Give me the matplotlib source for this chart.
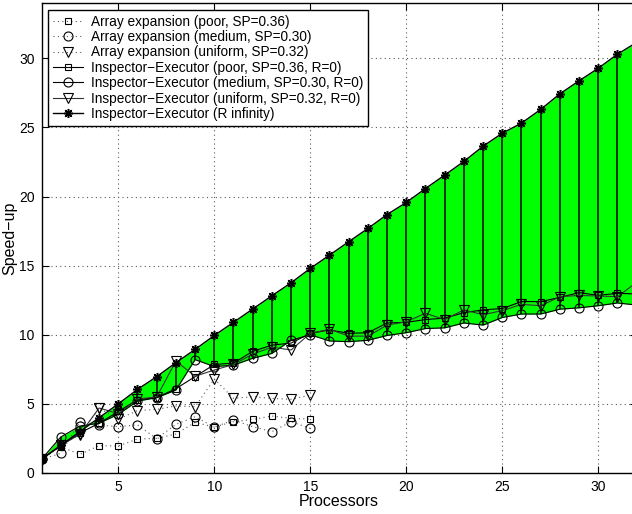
import numpy as np
import matplotlib
matplotlib.use("Agg")
from matplotlib import pyplot as plt

plt.rcParams['font.family'] = ['Liberation Sans', 'DejaVu Sans']

# processors
procs = np.arange(1, 33)
procs_ae = np.arange(1, 16)

# array expansion (dotted, 1..15 processors)
ae_poor = [1.0, 1.9, 1.35, 1.98, 1.95, 2.46, 2.5, 2.82, 3.66, 3.33, 3.71, 3.88, 4.12, 3.95, 3.9]
ae_medium = [1.0, 1.42, 3.72, 3.47, 3.35, 3.48, 2.48, 3.52, 4.07, 3.32, 3.83, 3.35, 2.99, 3.71, 3.22]
ae_uniform = [1.0, 2.0, 2.75, 4.7, 3.9, 4.51, 4.6, 4.85, 4.79, 6.8, 5.4, 5.52, 5.4, 5.33, 5.64]

# inspector-executor, R=0 (1..32 processors)
ie_poor = [1.0, 1.95, 2.9, 3.6, 4.45, 5.3, 5.45, 6.1, 6.97, 7.85, 7.95, 8.8, 9.25, 9.4, 10.1, 10.35,
           10.1, 10.15, 10.85, 10.9, 11.1, 11.2, 11.6, 11.8, 11.9, 12.4, 12.4, 12.7, 13.05, 12.85, 13.0, 12.95]
ie_medium = [1.0, 2.6, 3.4, 3.6, 4.25, 5.2, 5.45, 6.0, 8.2, 7.7, 7.8, 8.3, 8.65, 9.6, 10.0, 9.55,
             9.5, 9.6, 9.95, 10.15, 10.45, 10.5, 10.85, 10.7, 11.25, 11.5, 11.5, 11.85, 11.95, 12.1, 12.3, 12.15]
ie_uniform = [1.0, 2.0, 2.8, 4.7, 4.3, 5.35, 5.5, 8.1, 7.0, 7.45, 7.85, 8.6, 9.1, 8.9, 10.1, 10.4,
              9.9, 9.9, 10.7, 10.95, 11.55, 11.1, 11.8, 11.45, 11.75, 12.2, 12.1, 12.75, 12.85, 12.8, 12.75, 13.8]

# inspector-executor, R infinity
ie_rinf = [1.0, 2.0, 3.0, 4.0, 5.0, 6.05, 6.97, 7.98, 8.94, 9.95, 10.9, 11.86, 12.82, 13.76, 14.8, 15.76,
           16.73, 17.69, 18.7, 19.57, 20.58, 21.55, 22.54, 23.64, 24.58, 25.31, 26.3, 27.43, 28.37, 29.28, 30.3, 31.15]

labels = ['Array expansion (poor, SP=0.36)',
          'Array expansion (medium, SP=0.30)',
          'Array expansion (uniform, SP=0.32)',
          'Inspector\u2212Executor (poor, SP=0.36, R=0)',
          'Inspector\u2212Executor (medium, SP=0.30, R=0)',
          'Inspector\u2212Executor (uniform, SP=0.32, R=0)',
          'Inspector\u2212Executor (R infinity)']

fig = plt.figure(figsize=(6.32, 5.14), dpi=100)
ax = fig.add_axes([41.5 / 632, 41 / 514, 595.2 / 632, 470 / 514])
ax.set_axisbelow(True)

# shaded region between R infinity and R=0 (medium)
ax.fill_between(procs, ie_rinf, ie_medium, color=(0, 1, 0), lw=0, zorder=1)
ax.vlines(procs, ie_medium, ie_rinf, colors='k', lw=1.1, zorder=2)

ms = dict(mfc='none', mec='k', mew=0.8)
h1, = ax.plot(procs_ae, ae_poor, ls=(0, (1, 3)), color='0.35', lw=0.8, marker='s', ms=5, **ms)
h2, = ax.plot(procs_ae, ae_medium, ls=(0, (1, 3)), color='0.35', lw=0.8, marker='o', ms=6.5, **ms)
h3, = ax.plot(procs_ae, ae_uniform, ls=(0, (1, 3)), color='0.35', lw=0.8, marker='v', ms=7, **ms)
h4, = ax.plot(procs, ie_poor, '-', color='k', lw=0.8, marker='s', ms=5, zorder=3, **ms)
h5, = ax.plot(procs, ie_medium, '-', color='k', lw=0.8, marker='o', ms=6.5, zorder=3, **ms)
h6, = ax.plot(procs, ie_uniform, '-', color='0.2', lw=0.8, marker='v', ms=7, zorder=3, **ms)
h7, = ax.plot(procs, ie_rinf, '-', color='k', lw=1.0, marker=(8, 2, 0), ms=6.5, zorder=3,
              mfc='none', mec='k', mew=1.1)

ax.set_xlim(1, 32)
ax.set_ylim(0, 34)
ax.set_xticks([5, 10, 15, 20, 25, 30])
ax.set_yticks([0, 5, 10, 15, 20, 25, 30])
ax.tick_params(direction='in', length=5, top=True, right=True, labelsize=10, width=0.8, pad=5)
ax.grid(True, color='0.35', ls=(0, (1, 3)), lw=0.8)
for s in ax.spines.values():
    s.set_linewidth(1.0)

ax.set_xlabel('Processors', fontsize=11.5, labelpad=0)
ax.set_ylabel('Speed\u2212up', fontsize=11.5, labelpad=1)

leg = ax.legend([h1, h2, h3, h4, h5, h6, h7], labels, loc='upper left',
                bbox_to_anchor=(48 / 632, 1 - 10 / 514), bbox_transform=fig.transFigure,
                borderaxespad=0, fontsize=9.8, labelspacing=0.1, handlelength=2.2,
                handletextpad=0.6, borderpad=0.35, fancybox=False, framealpha=1)
leg.get_frame().set_edgecolor('k')
leg.get_frame().set_linewidth(1.0)

fig.savefig('out.png', dpi=100)
